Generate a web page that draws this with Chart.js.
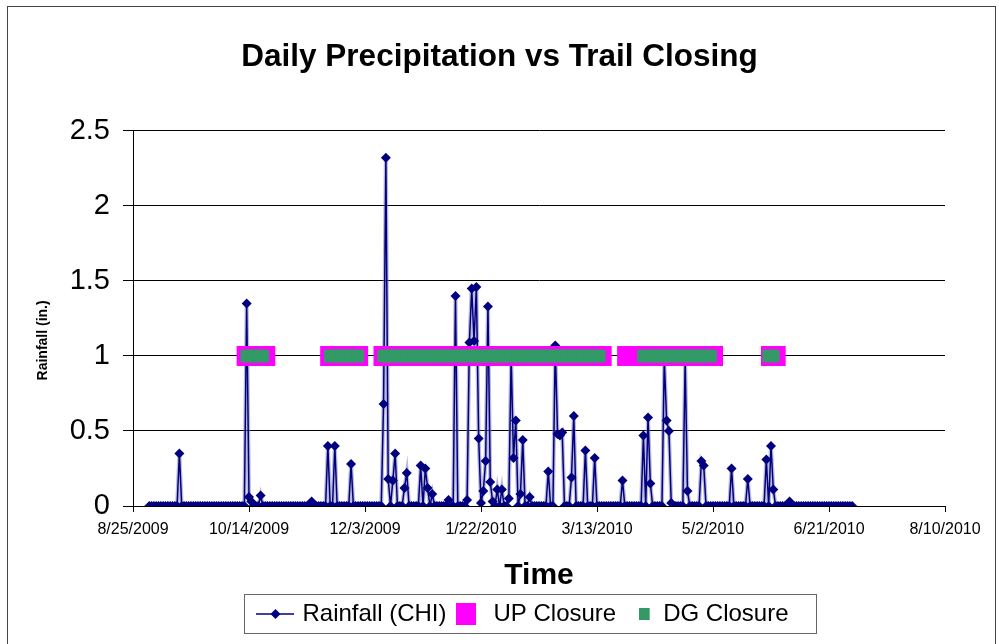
<!DOCTYPE html>
<html>
<head>
<meta charset="utf-8">
<script src="https://cdn.jsdelivr.net/npm/chart.js@4/dist/chart.umd.min.js"></script>
<style>
html,body{margin:0;padding:0;background:#fff;}
#c{display:block;}
</style>
</head>
<body>
<canvas id="c" width="999" height="644"></canvas>
<script>
// ---------------- DATA ----------------
const axisOrigin = '8/25/2009';
const xTickLabels = ['8/25/2009','10/14/2009','12/3/2009','1/22/2010','3/13/2010','5/2/2010','6/21/2010','8/10/2010'];
const yTickValues = [0, 0.5, 1, 1.5, 2, 2.5];

// Daily rainfall (in.), one value per day starting 9/1/2009
const rainfallFirstDate = '9/1/2009';
const rainfall = [
  0,0,0,0,0,0,0,0,0,0,            // 9/1
  0,0,0,0.35,0,0,0,0,0,0,         // 9/11
  0,0,0,0,0,0,0,0,0,0,            // 9/21
  0,0,0,0,0,0,0,0,0,0,            // 10/1
  0,0,1.35,0.06,0.03,0,0,0,0.07,0,// 10/11
  0,0,0,0,0,0,0,0,0,0,            // 10/21
  0,0,0,0,0,0,0,0,0,0,            // 10/31
  0.03,0,0,0,0,0,0,0.40,0,0,      // 11/10
  0.40,0,0,0,0,0,0,0.28,0,0,      // 11/20
  0,0,0,0,0,0,0,0,0,0,            // 11/30
  0,0.68,2.32,0.18,0,0.17,0.35,0,0,0,   // 12/10
  0.12,0.22,0,0,0,0,0,0.27,0,0.25,      // 12/20
  0.12,0,0.08,0,0,0,0,0,0,0.04,         // 12/30
  0,0,1.40,0,0,0,0,0.04,1.09,1.45,      // 1/9
  1.10,1.46,0.45,0.02,0.10,0.30,1.33,0.16,0.03,0, // 1/19
  0.11,0,0.11,0,0,0.05,1.00,0.32,0.57,0,// 1/29
  0.08,0.44,0,0,0.06,0,0,0,0,0,         // 2/8
  0,0,0.23,0,0,1.07,0.48,0.47,0.49,0,   // 2/18
  0,0,0.19,0.60,0,0,0,0,0.37,0,         // 2/28
  0,0,0.32,0,0,0,0,0,0,0,               // 3/10
  0,0,0,0,0.17,0,0,0,0,0,               // 3/20
  0,0,0,0.47,0,0.59,0.15,0,0,0,         // 3/30
  0,0,0.98,0.57,0.50,0.02,0,0,0,0,      // 4/9
  0,0.97,0.10,0,0,0,0,0,0.30,0.27,      // 4/19
  0,0,0,0,0,0,0,0,0,0,                  // 4/29
  0,0.25,0,0,0,0,0,0,0.18,0,            // 5/9
  0,0,0,0,0,0,0.31,0,0.40,0.11,         // 5/19
  0,0,0,0,0,0,0.03,0,0,0,               // 5/29
  0,0,0,0,0,0,0,0,0,0,                  // 6/8
  0,0,0,0,0,0,0,0,0,0,                  // 6/18
  0,0,0,0                               // 6/28
];

// Trail closures (plotted at the 1.0 level)
const closureLevel = 1;
const upClosureFrom = ['10/13/2009','11/18/2009','12/11/2009','3/26/2010','5/27/2010'];
const upClosureTo   = ['10/21/2009','11/30/2009','3/15/2010','5/2/2010','5/29/2010'];
const dgClosureFrom = ['10/13/2009','11/18/2009','12/11/2009','4/2/2010','5/26/2010'];
const dgClosureTo   = ['10/20/2009','11/30/2009','3/14/2010','5/1/2010','5/28/2010'];

// ---------------- HELPERS ----------------
function utc(str){ const p = str.split('/').map(Number); return Date.UTC(p[2], p[0]-1, p[1]); }
function dayNum(str){ return Math.round((utc(str) - utc(axisOrigin)) / 864e5); }
function fmtDay(n){
  const t = new Date(utc(axisOrigin) + Math.round(n) * 864e5);
  return (t.getUTCMonth()+1) + '/' + t.getUTCDate() + '/' + t.getUTCFullYear();
}
function closurePoints(from, to){
  const pts = [];
  for (let k = 0; k < from.length; k++) {
    for (let d = dayNum(from[k]); d <= dayNum(to[k]); d++) pts.push({x: d, y: closureLevel});
  }
  return pts;
}
function fontAvailable(name){
  const ctx = document.createElement('canvas').getContext('2d');
  const s = 'mmmmmmmmmwwwlli10/14/2009';
  ctx.font = '40px monospace'; const a = ctx.measureText(s).width;
  ctx.font = '40px "' + name + '", monospace'; const b = ctx.measureText(s).width;
  return Math.abs(a - b) > 0.5;
}
let NARROW = null;
['Liberation Sans Narrow','Arial Narrow'].forEach(n => { if (!NARROW && fontAvailable(n)) NARROW = '"' + n + '"'; });
const narrowFamily = (NARROW ? NARROW + ', ' : '') + '"Liberation Sans", Arial, sans-serif';

const NAVY = '#000080', MAGENTA = '#FF00FF', GREEN = '#339966', HALO = 'rgba(120,120,180,0.5)';
const firstDay = dayNum(rainfallFirstDate);
const rainPts = rainfall.map((v, i) => ({x: firstDay + i, y: v}));
const upPts = closurePoints(upClosureFrom, upClosureTo);
const dgPts = closurePoints(dgClosureFrom, dgClosureTo);

// legend keys: images whose centre sits 12.5px left of the label text
function mkImg(w, h, draw){ const c = document.createElement('canvas'); c.width = w; c.height = h; draw(c.getContext('2d'), w, h); return c; }
const rainKey = mkImg(68, 12, (g) => {
  g.strokeStyle = NAVY; g.lineWidth = 1.5; g.beginPath(); g.moveTo(0, 6); g.lineTo(38, 6); g.stroke();
  g.fillStyle = NAVY; g.beginPath(); g.moveTo(14.5, 6); g.lineTo(19.5, 1); g.lineTo(24.5, 6); g.lineTo(19.5, 11); g.closePath(); g.fill();
});
const upKey = mkImg(50, 22, (g) => { g.fillStyle = MAGENTA; g.fillRect(0, 0, 20, 22); });
const dgKey = mkImg(24, 12, (g) => { g.fillStyle = GREEN; g.fillRect(0, 0, 11, 12); });
const legendKeys = [rainKey, upKey, dgKey];

// ---------------- LAYOUT NUMBERS ----------------
const plotBottom = 506;
const legendFontSize = NARROW ? 28 : 24;
const legendPad = 34;
const legendTextY = 614;
const legendTop = legendTextY - legendPad - legendFontSize / 2;
const legendHeight = legendFontSize + legendPad + 10;
const bottomPad = 644 - legendTop - legendHeight;
const xAxisHeight = legendTop - plotBottom;
const timeTitleY = 576;
const timeTitlePad = legendTop - 18 - timeTitleY;

Chart.defaults.font.family = '"Liberation Sans", Arial, sans-serif';
Chart.defaults.color = '#000';

const framePlugin = {
  id: 'frame',
  beforeDraw(chart){
    const g = chart.ctx; g.save(); g.fillStyle = '#fff'; g.fillRect(0, 0, chart.width, chart.height); g.restore();
  },
  afterDraw(chart){
    const g = chart.ctx, ca = chart.chartArea;
    g.save();
    g.strokeStyle = '#444'; g.lineWidth = 1;
    g.strokeRect(7.5, 6.5, 988, 700);
    const hb = chart.legend.legendHitBoxes;
    if (hb && hb.length) {
      const l = Math.min(...hb.map(h => h.left)) - 45;
      const r = Math.max(...hb.map(h => h.left + h.width)) + 28;
      g.strokeStyle = '#666';
      g.strokeRect(Math.round(l) + 0.5, legendTextY - 19.5, Math.round(r - l), 39);
    }
    g.translate(43, (ca.top + ca.bottom) / 2 + 22);
    g.rotate(-Math.PI / 2);
    g.font = 'bold 14px "Liberation Sans", Arial, sans-serif';
    g.fillStyle = '#000'; g.textAlign = 'center'; g.textBaseline = 'middle';
    g.fillText('Rainfall (in.)', 0, 0);
    g.restore();
  }
};

new Chart(document.getElementById('c'), {
  type: 'scatter',
  data: {
    datasets: [
      { label: 'Rainfall (CHI)', data: rainPts, showLine: true, borderColor: NAVY, borderWidth: 1.5,
        pointStyle: 'rectRot', pointRadius: 5, pointBackgroundColor: NAVY, pointBorderColor: NAVY,
        pointBorderWidth: 0, order: 3 },
      { label: 'UP Closure', data: upPts, showLine: false, pointStyle: 'rect', pointRadius: 14.2,
        pointBackgroundColor: MAGENTA, pointBorderColor: MAGENTA, pointBorderWidth: 0, order: 2 },
      { label: 'DG Closure', data: dgPts, showLine: false, pointStyle: 'rect', pointRadius: 8.8,
        pointBackgroundColor: GREEN, pointBorderColor: GREEN, pointBorderWidth: 0, order: 1 },
      { label: 'halo', data: rainPts, showLine: true, borderColor: HALO, borderWidth: 4,
        pointRadius: 0, order: 4 }
    ]
  },
  options: {
    responsive: false, animation: false, events: [],
    layout: { padding: { left: 6, right: 6, top: 38, bottom: bottomPad } },
    plugins: {
      tooltip: { enabled: false },
      title: { display: true, text: 'Daily Precipitation vs Trail Closing', color: '#000',
               font: { size: 31.5, weight: 'bold' }, padding: { top: 0, bottom: 55 } },
      legend: {
        position: 'bottom', fullSize: false,
        labels: {
          usePointStyle: true, pointStyleWidth: 1, padding: legendPad, color: '#000',
          font: { family: narrowFamily, size: legendFontSize },
          sort: (a, b) => a.datasetIndex - b.datasetIndex,
          filter: it => it.datasetIndex < 3,
          generateLabels(chart){
            const items = Chart.defaults.plugins.legend.labels.generateLabels(chart);
            items.forEach(it => { it.pointStyle = legendKeys[it.datasetIndex]; });
            return items;
          }
        }
      }
    },
    scales: {
      x: {
        type: 'linear', min: 0, max: 350,
        afterBuildTicks: s => { s.ticks = xTickLabels.map(l => ({ value: dayNum(l) })); },
        ticks: { callback: v => fmtDay(v), autoSkip: false, maxRotation: 0, minRotation: 0,
                 padding: NARROW ? 7 : 8, color: '#000',
                 font: { family: narrowFamily, size: NARROW ? 19 : 16 } },
        grid: { drawOnChartArea: false, drawTicks: true, tickLength: 6, color: '#000', tickColor: '#000' },
        border: { display: true, color: '#000', width: 1 },
        title: { display: true, text: 'Time', color: '#000', font: { size: 30, weight: 'bold' },
                 padding: { top: 0, bottom: timeTitlePad } },
        afterFit: s => { s.height = xAxisHeight; }
      },
      y: {
        type: 'linear', position: 'left', min: 0, max: 2.5,
        afterBuildTicks: s => { s.ticks = yTickValues.map(v => ({ value: v })); },
        ticks: { padding: 13, color: '#000', font: { size: 29 }, callback: v => String(v) },
        grid: { color: '#000', tickColor: '#000', tickLength: 10, lineWidth: 1 },
        border: { display: true, color: '#000', width: 1 },
        afterFit: s => { s.width = 127; }
      },
      y2: {
        type: 'linear', position: 'right', display: true,
        grid: { display: false, drawTicks: false }, border: { display: false }, ticks: { display: false },
        afterFit: s => { s.width = 48; }
      }
    }
  },
  plugins: [framePlugin]
});
</script>
</body>
</html>
